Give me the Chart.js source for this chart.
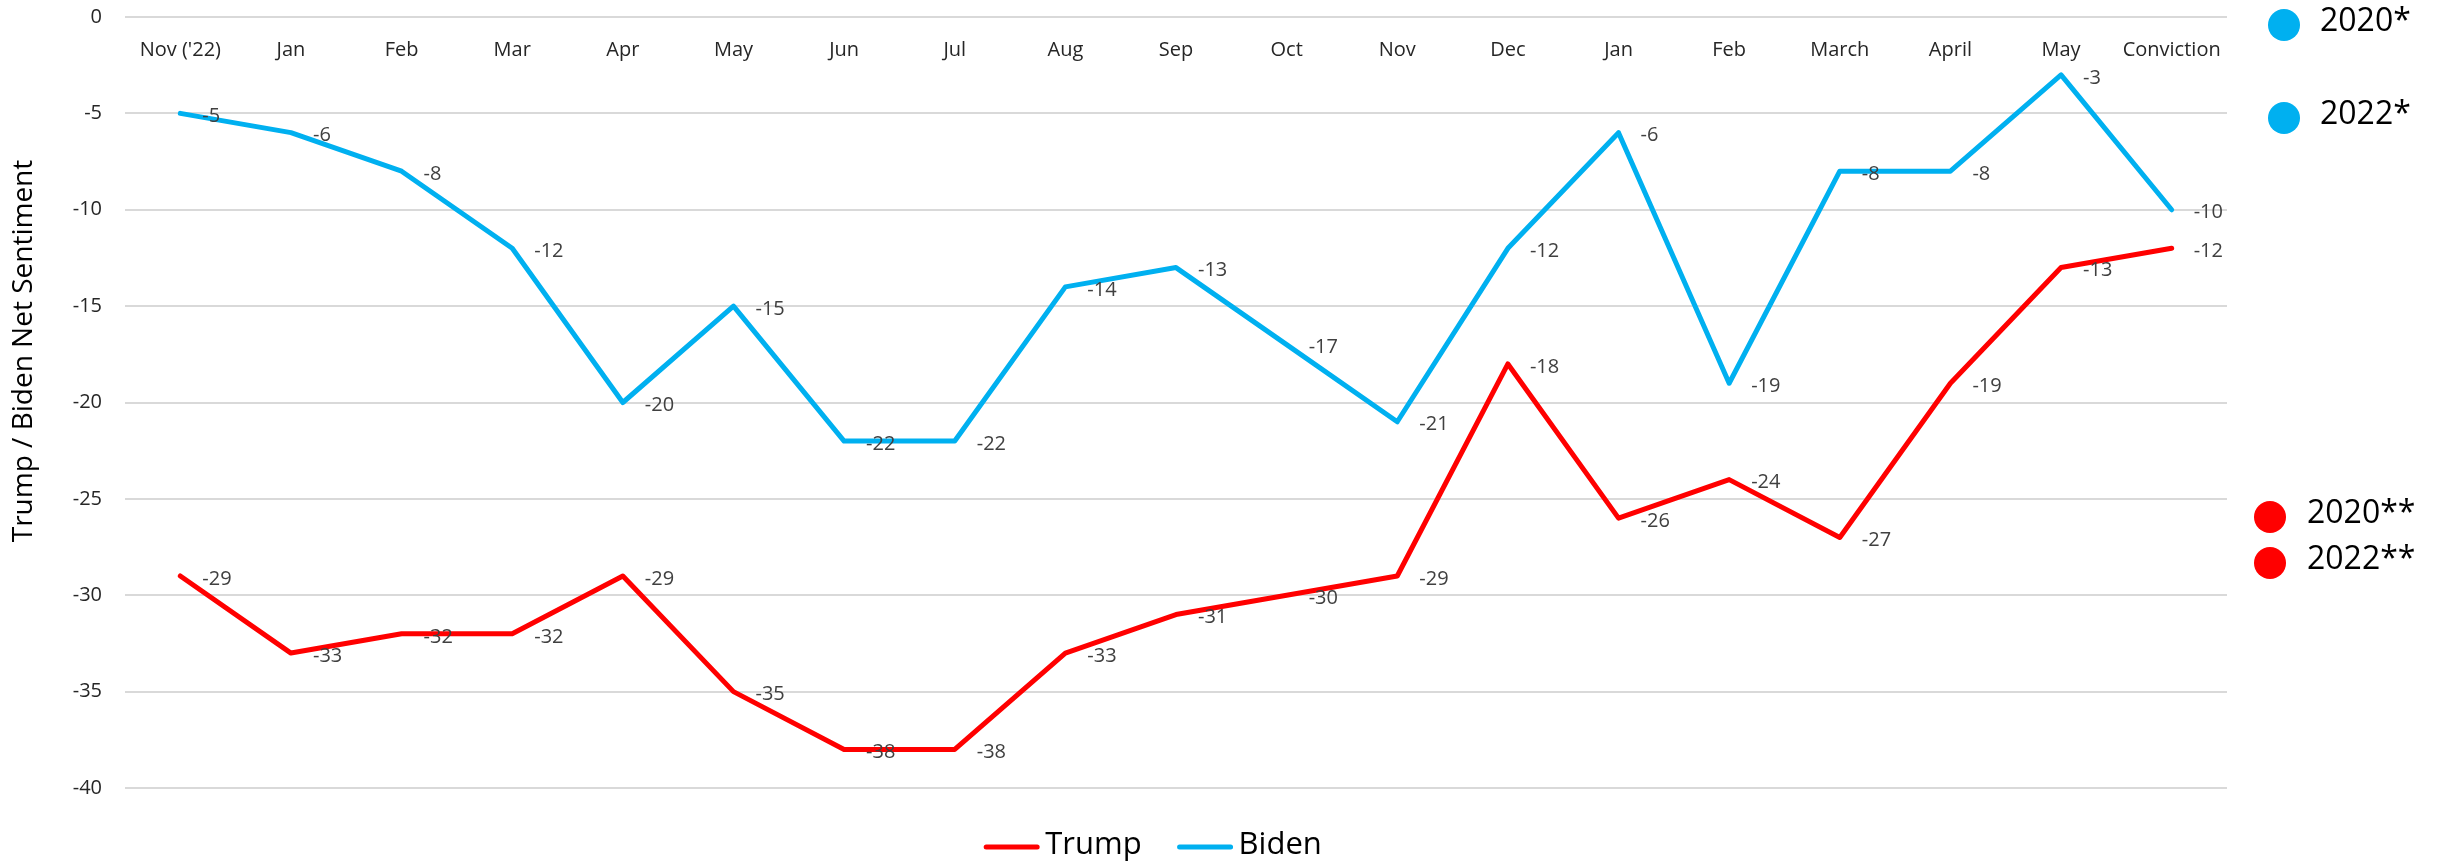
<!DOCTYPE html>
<html>
<head>
<meta charset="utf-8">
<title>Trump / Biden Net Sentiment</title>
<script src="https://cdn.jsdelivr.net/npm/chart.js@4.4.1/dist/chart.umd.min.js"></script>
<style>
  html, body { margin: 0; padding: 0; background: #fff; }
  #wrap { width: 2443px; height: 866px; position: relative; }
</style>
</head>
<body>
<div id="wrap"><canvas id="sentimentChart"></canvas></div>
<script>
// Monthly net sentiment, Nov '22 through the conviction
const months = ["Nov ('22)", 'Jan', 'Feb', 'Mar', 'Apr', 'May', 'Jun', 'Jul', 'Aug', 'Sep', 'Oct', 'Nov',
                'Dec', 'Jan', 'Feb', 'March', 'April', 'May', 'Conviction'];
const trumpNet = [-29, -33, -32, -32, -29, -35, -38, -38, -33, -31, -30, -29, -18, -26, -24, -27, -19, -13, -12];
const bidenNet = [-5, -6, -8, -12, -20, -15, -22, -22, -14, -13, -17, -21, -12, -6, -19, -8, -8, -3, -10];
const yTicks = [0, -5, -10, -15, -20, -25, -30, -35, -40];
const yTitle = 'Trump / Biden Net Sentiment';

// side notes next to the plot, one list per series
const bidenNotes = ['2020*', '2022*'];
const trumpNotes = ['2020**', '2022**'];

const RED = '#ff0000';
const BLUE = '#00b0f0';
const FONT = '"Open Sans", "Noto Sans", sans-serif';

// value labels just right of every point
const valueLabels = {
    id: 'valueLabels',
    afterDatasetsDraw(chart) {
        const ctx = chart.ctx;
        ctx.save();
        ctx.font = `20px ${FONT}`;
        ctx.fillStyle = '#404040';
        ctx.textAlign = 'left';
        ctx.textBaseline = 'middle';
        chart.data.datasets.forEach((ds, i) => {
            chart.getDatasetMeta(i).data.forEach((pt, j) => {
                ctx.fillText(String(ds.data[j]), pt.x + 22, pt.y + 3);
            });
        });
        ctx.restore();
    }
};

// rotated y title, sitting a bit above the middle like the original sheet
const axisTitle = {
    id: 'axisTitle',
    afterDraw(chart) {
        const ctx = chart.ctx;
        ctx.save();
        ctx.translate(24, 351);
        ctx.rotate(-Math.PI / 2);
        ctx.font = `28px ${FONT}`;
        ctx.fillStyle = '#000';
        ctx.textAlign = 'center';
        ctx.textBaseline = 'middle';
        ctx.fillText(yTitle, 0, 0);
        ctx.restore();
    }
};

// compact legend under the plot: short line swatch, tight gap, then the label
const lineLegend = {
    id: 'lineLegend',
    afterDraw(chart) {
        const ctx = chart.ctx;
        const sw = 55, gap = 6, itemGap = 36, cy = 847, cx = 1153;
        ctx.save();
        ctx.font = `31px ${FONT}`;
        ctx.textBaseline = 'middle';
        ctx.textAlign = 'left';
        const items = chart.data.datasets.map(ds => ({
            label: ds.label, color: ds.borderColor, w: sw + gap + ctx.measureText(ds.label).width
        }));
        const total = items.reduce((s, it) => s + it.w, 0) + itemGap * (items.length - 1);
        let x = cx - total / 2;
        items.forEach(it => {
            ctx.strokeStyle = it.color;
            ctx.lineWidth = 5;
            ctx.lineCap = 'round';
            ctx.beginPath();
            ctx.moveTo(x + 2, cy);
            ctx.lineTo(x + sw - 2, cy);
            ctx.stroke();
            ctx.fillStyle = '#000';
            ctx.fillText(it.label, x + sw + gap, cy - 2);
            x += it.w + itemGap;
        });
        ctx.restore();
    }
};

// coloured dots with year notes in the right margin
const sideNotes = {
    id: 'sideNotes',
    afterDraw(chart) {
        const ctx = chart.ctx;
        const r = chart.chartArea.right;
        ctx.save();
        ctx.font = `32px ${FONT}`;
        ctx.textAlign = 'left';
        ctx.textBaseline = 'middle';
        const draw = (txt, color, cx, cy, tx) => {
            ctx.fillStyle = color;
            ctx.beginPath();
            ctx.arc(cx, cy, 16, 0, Math.PI * 2);
            ctx.fill();
            ctx.fillStyle = '#000';
            ctx.fillText(txt, tx, cy - 3);
        };
        bidenNotes.forEach((t, i) => draw(t, BLUE, r + 57, 25 + i * 93, r + 93));
        trumpNotes.forEach((t, i) => draw(t, RED, r + 43, 517 + i * 46, r + 80));
        ctx.restore();
    }
};

new Chart(document.getElementById('sentimentChart'), {
    type: 'line',
    data: {
        labels: months,
        datasets: [
            {
                label: 'Trump',
                data: trumpNet,
                borderColor: RED,
                backgroundColor: RED,
                borderWidth: 5,
                borderJoinStyle: 'round',
                borderCapStyle: 'round',
                pointRadius: 0,
                tension: 0
            },
            {
                label: 'Biden',
                data: bidenNet,
                borderColor: BLUE,
                backgroundColor: BLUE,
                borderWidth: 5,
                borderJoinStyle: 'round',
                borderCapStyle: 'round',
                pointRadius: 0,
                tension: 0
            }
        ]
    },
    options: {
        responsive: true,
        maintainAspectRatio: false,
        animation: false,
        layout: { padding: { top: 17, right: 216, bottom: 78, left: 0 } },
        plugins: {
            tooltip: { enabled: false },
            legend: { display: false }
        },
        scales: {
            x: {
                type: 'category',
                position: { y: 0 },
                offset: true,
                grid: { display: false, drawTicks: false },
                border: { display: false },
                ticks: {
                    padding: 21,
                    maxRotation: 0,
                    autoSkip: false,
                    color: '#262626',
                    font: { family: FONT, size: 20 }
                }
            },
            y: {
                min: -40,
                max: 0,
                afterBuildTicks(scale) {
                    scale.ticks = yTicks.map(v => ({ value: v }));
                },
                afterFit(scale) { scale.width = 125; },
                grid: {
                    color: '#d9d9d9',
                    lineWidth: 2,
                    drawTicks: true,
                    tickLength: 23,
                    tickColor: 'rgba(0,0,0,0)'
                },
                border: { display: false },
                ticks: {
                    padding: 0,
                    color: '#262626',
                    font: { family: FONT, size: 20 }
                }
            }
        }
    },
    plugins: [valueLabels, axisTitle, lineLegend, sideNotes]
});
</script>
</body>
</html>
